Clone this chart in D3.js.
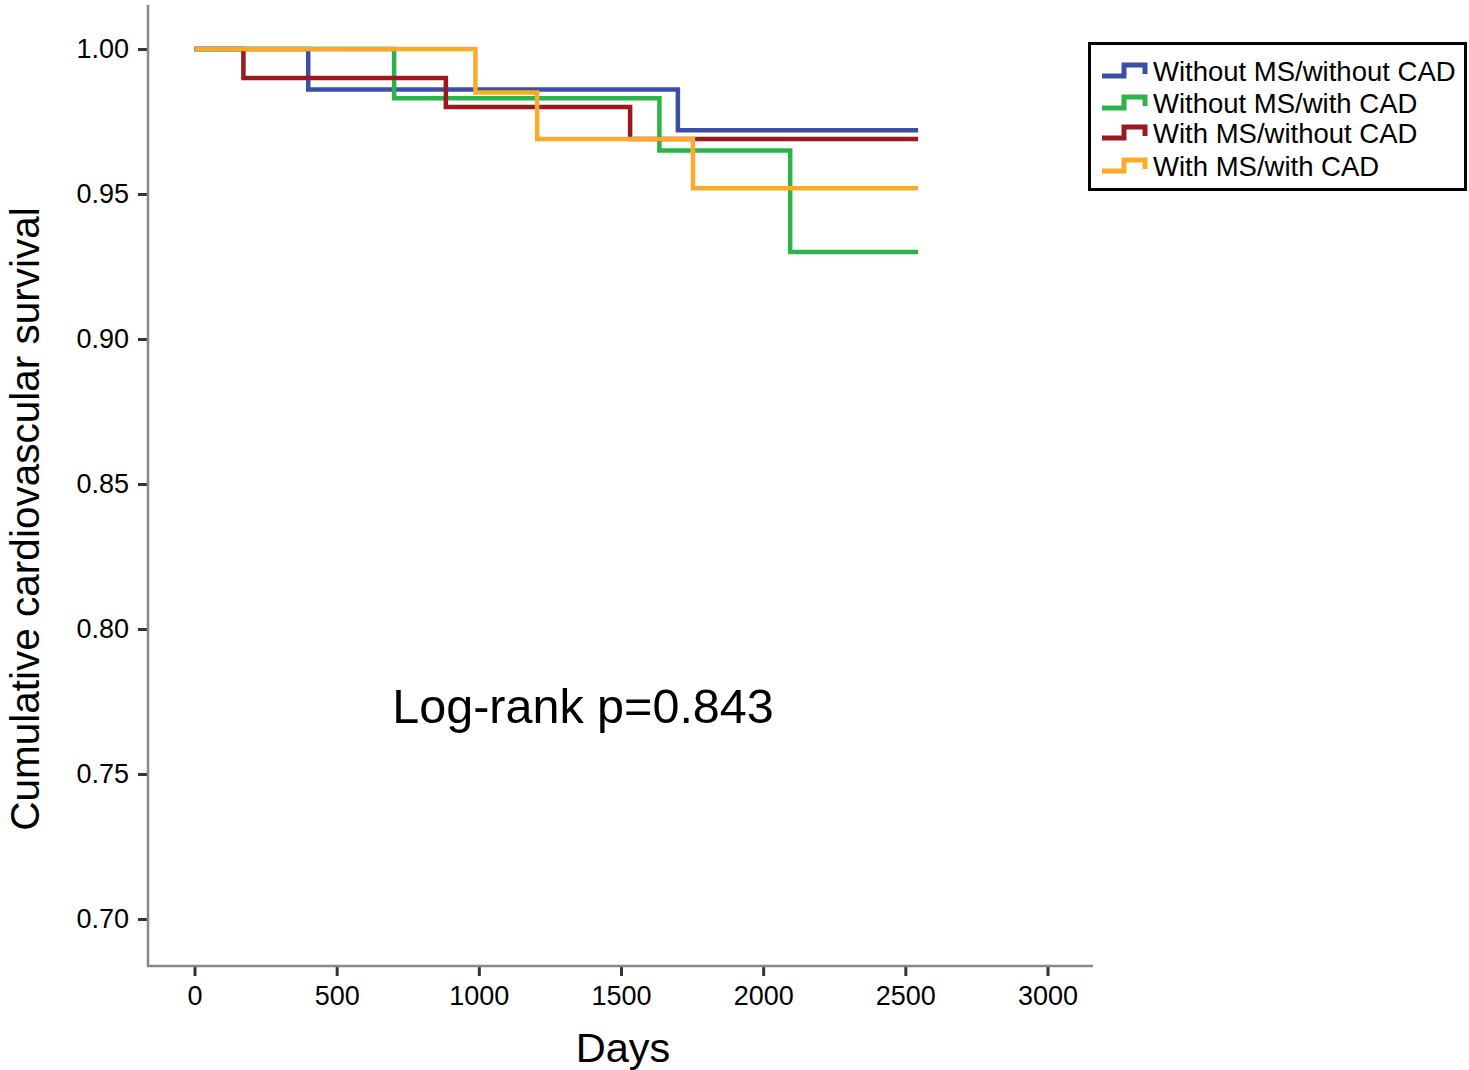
<!DOCTYPE html>
<html>
<head>
<meta charset="utf-8">
<script src="https://cdn.jsdelivr.net/npm/d3@7"></script>
<style>
  body { margin: 0; background: #fff; }
  text { font-family: "Liberation Sans", Arial, sans-serif; }
</style>
</head>
<body>
<div id="chart"></div>
<script>
// data
var groups = ["Without MS/without CAD", "Without MS/with CAD", "With MS/without CAD", "With MS/with CAD"];
var colors = ["#3a50a6", "#2cb34a", "#9a1a1f", "#fbaa2c"];
var blueDays = [0, 400, 1700, 2545];
var blueSurv = [1.000, 0.986, 0.972, 0.972];
var greenDays = [0, 702, 1635, 2095, 2545];
var greenSurv = [1.000, 0.983, 0.965, 0.930, 0.930];
var redDays = [0, 172, 884, 1532, 2545];
var redSurv = [1.000, 0.990, 0.980, 0.969, 0.969];
var orangeDays = [0, 988, 1205, 1753, 2545];
var orangeSurv = [1.000, 0.985, 0.969, 0.952, 0.952];
var xTicks = [0, 500, 1000, 1500, 2000, 2500, 3000];
var yTicks = [0.70, 0.75, 0.80, 0.85, 0.90, 0.95, 1.00];

var series = [
  {days: blueDays, surv: blueSurv},
  {days: greenDays, surv: greenSurv},
  {days: redDays, surv: redSurv},
  {days: orangeDays, surv: orangeSurv}
];

var width = 1469, height = 1070;
var svg = d3.select("#chart").append("svg")
    .attr("width", width)
    .attr("height", height);

var xScale = d3.scaleLinear().domain([0, 3000]).range([194.5, 1047.5]);
var yScale = d3.scaleLinear().domain([0.70, 1.00]).range([919, 49]);

// axes
var xAxis = svg.append("g").attr("transform", "translate(0,966)")
    .call(d3.axisBottom(xScale).tickValues(xTicks).tickSize(10).tickPadding(10).tickFormat(d3.format("d")));
xAxis.select(".domain").remove();
xAxis.selectAll("line").attr("stroke", "#333").attr("stroke-width", 3);
xAxis.selectAll("text").attr("font-size", 27).attr("fill", "#000");

var yAxis = svg.append("g").attr("transform", "translate(148,0)")
    .call(d3.axisLeft(yScale).tickValues(yTicks).tickSize(10).tickPadding(9).tickFormat(d3.format(".2f")));
yAxis.select(".domain").remove();
yAxis.selectAll("line").attr("stroke", "#333").attr("stroke-width", 3);
yAxis.selectAll("text").attr("font-size", 27).attr("fill", "#000");

svg.append("line").attr("x1", 147).attr("x2", 1093).attr("y1", 966).attr("y2", 966)
    .attr("stroke", "#888").attr("stroke-width", 2.5);
svg.append("line").attr("x1", 148).attr("x2", 148).attr("y1", 5).attr("y2", 967)
    .attr("stroke", "#888").attr("stroke-width", 2.5);

// step curves
var line = d3.line()
    .x(function(d) { return xScale(d[0]); })
    .y(function(d) { return yScale(d[1]); })
    .curve(d3.curveStepAfter);

series.forEach(function(s, i) {
  var pts = s.days.map(function(d, j) { return [d, s.surv[j]]; });
  svg.append("path").datum(pts)
      .attr("d", line)
      .attr("fill", "none")
      .attr("stroke", colors[i])
      .attr("stroke-width", 4.5);
});

// legend
var legend = svg.append("g");
legend.append("rect").attr("x", 1089.5).attr("y", 43.5).attr("width", 376).attr("height", 146)
    .attr("fill", "#fff").attr("stroke", "#000").attr("stroke-width", 3);
var legendY = [71, 103, 133, 166];
groups.forEach(function(g, i) {
  var y = legendY[i];
  legend.append("path")
      .attr("d", "M1102," + (y + 5) + "H1124V" + (y - 6) + "H1145V" + (y + 3))
      .attr("fill", "none").attr("stroke", colors[i]).attr("stroke-width", 5);
  legend.append("text").attr("x", 1153).attr("y", y + 10)
      .attr("font-size", 27.5).text(g);
});

// labels
svg.append("text").attr("x", 583).attr("y", 723).attr("text-anchor", "middle")
    .attr("font-size", 48.5).text("Log-rank p=0.843");
svg.append("text").attr("x", 623).attr("y", 1062).attr("text-anchor", "middle")
    .attr("font-size", 41.5).text("Days");
svg.append("text").attr("transform", "translate(39,519) rotate(-90)").attr("text-anchor", "middle")
    .attr("font-size", 40.5).text("Cumulative cardiovascular survival");
</script>
</body>
</html>
